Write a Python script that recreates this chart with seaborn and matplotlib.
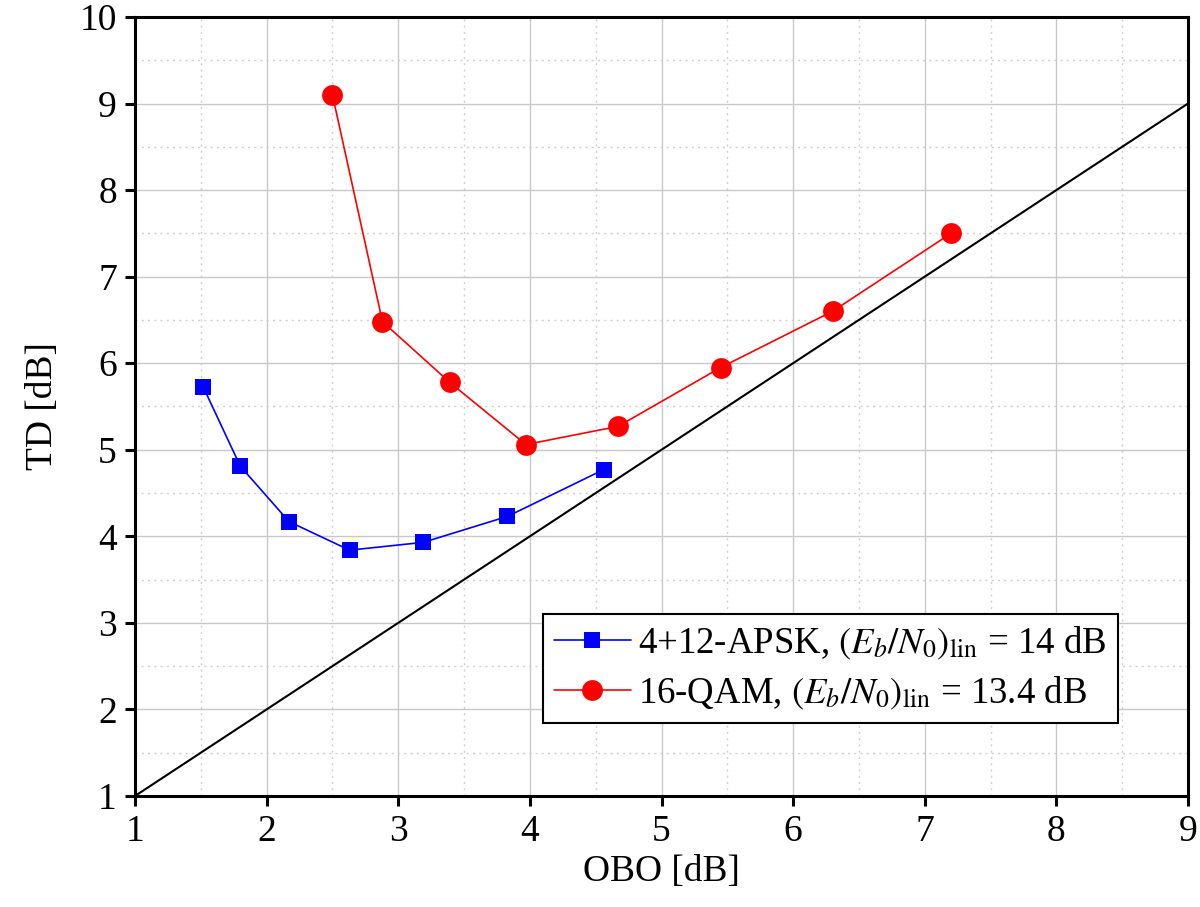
import matplotlib
matplotlib.use("Agg")
import matplotlib.pyplot as plt
import seaborn as sns
import pandas as pd
from matplotlib.ticker import MultipleLocator

apsk_obo = [1.52, 1.80, 2.17, 2.63, 3.19, 3.83, 4.56]
apsk_td = [5.72, 4.81, 4.17, 3.84, 3.93, 4.23, 4.77]
qam_obo = [2.50, 2.88, 3.39, 3.97, 4.67, 5.45, 6.30, 7.20]
qam_td = [9.10, 6.48, 5.78, 5.06, 5.27, 5.95, 6.60, 7.50]
ref_obo = [1, 9]
ref_td = [1, 9]

apsk_label = r'4+12-APSK, $(E_b/N_0)_{\mathrm{lin}}$ = 14 dB'
qam_label = r'16-QAM, $(E_b/N_0)_{\mathrm{lin}}$ = 13.4 dB'

sns.set_style("white")
plt.rcParams['font.family'] = ['Liberation Serif', 'DejaVu Serif']
plt.rcParams['mathtext.fontset'] = 'stix'
plt.rcParams['text.color'] = 'black'
plt.rcParams['axes.labelcolor'] = 'black'
plt.rcParams['xtick.color'] = 'black'
plt.rcParams['ytick.color'] = 'black'

fig = plt.figure(figsize=(12, 9.07), dpi=100)
ax = fig.add_axes([0.1125, 0.1224, 0.8775, 0.8589])

df_a = pd.DataFrame({'OBO': apsk_obo, 'TD': apsk_td})
df_q = pd.DataFrame({'OBO': qam_obo, 'TD': qam_td})
df_r = pd.DataFrame({'OBO': ref_obo, 'TD': ref_td})

sns.lineplot(data=df_r, x='OBO', y='TD', ax=ax, color='black', lw=1.5, zorder=3)
sns.lineplot(data=df_a, x='OBO', y='TD', ax=ax, color='#0000ff', lw=1.2,
             marker='s', markersize=12, markeredgewidth=0, label=apsk_label, zorder=4)
sns.lineplot(data=df_q, x='OBO', y='TD', ax=ax, color='#ff0000', lw=1.2,
             marker='o', markersize=15, markeredgewidth=0, label=qam_label, zorder=4)

ax.set_xlim(1, 9)
ax.set_ylim(1, 10)
ax.xaxis.set_major_locator(MultipleLocator(1))
ax.yaxis.set_major_locator(MultipleLocator(1))
ax.xaxis.set_minor_locator(MultipleLocator(0.5))
ax.yaxis.set_minor_locator(MultipleLocator(0.5))
ax.grid(which='major', color='#c8c8c8', lw=1.0)
ax.grid(which='minor', color='#cfcfcf', lw=1.0, linestyle=(0, (1.5, 3)))
ax.set_axisbelow(True)

for s in ax.spines.values():
    s.set_visible(True)
    s.set_color('black')
    s.set_linewidth(2.2)

ax.tick_params(which='major', direction='out', length=7, width=2.2,
               labelsize=27, color='black', labelcolor='black', pad=6,
               top=False, right=False, bottom=True, left=True)
ax.tick_params(which='minor', length=0)

ax.set_xlabel('OBO [dB]', fontsize=27, labelpad=4, color='black')
ax.set_ylabel('TD [dB]', fontsize=27, labelpad=14, color='black')

leg = ax.legend(loc='lower right', bbox_to_anchor=(0.9335, 0.094), fontsize=26.5,
                frameon=True, fancybox=False, edgecolor='black', framealpha=1,
                handlelength=2.1, borderpad=0.3, labelspacing=0.35,
                handletextpad=0.2, borderaxespad=0)
leg.get_frame().set_linewidth(1.5)
for t in leg.get_texts():
    t.set_color('black')

fig.savefig('out.png', dpi=100)
